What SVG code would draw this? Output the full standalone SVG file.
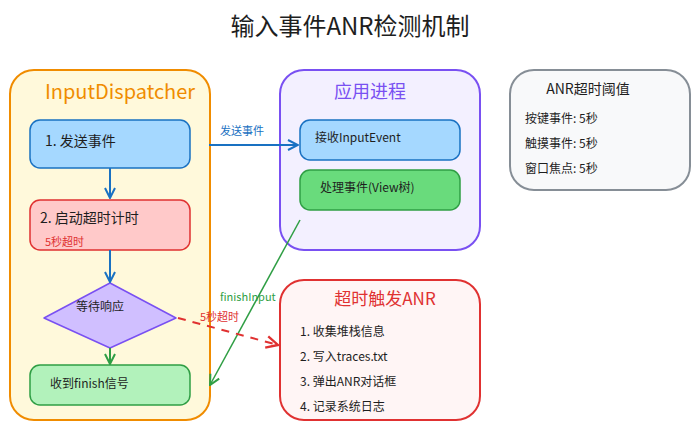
<svg xmlns="http://www.w3.org/2000/svg" width="700" height="430" viewBox="0 0 700 430">
<defs>
<style>
text{font-family:"Noto Sans CJK SC","Noto Sans",sans-serif;fill:#1e1e1e}
.t{font-size:14px}
.s{font-size:12px}
.c{text-anchor:middle}
</style>
<marker id="ab" viewBox="0 0 12 12" refX="11" refY="6" markerWidth="12" markerHeight="12" markerUnits="userSpaceOnUse" orient="auto"><path d="M1,1 L11,6 L1,11" fill="none" stroke="#1971c2" stroke-width="2"/></marker>
<marker id="ag" viewBox="0 0 12 12" refX="11" refY="6" markerWidth="12" markerHeight="12" markerUnits="userSpaceOnUse" orient="auto"><path d="M1,1 L11,6 L1,11" fill="none" stroke="#2f9e44" stroke-width="2"/></marker>
<marker id="ar" viewBox="0 0 12 12" refX="11" refY="6" markerWidth="14" markerHeight="14" markerUnits="userSpaceOnUse" orient="auto"><path d="M1,1 L11,6 L1,11" fill="none" stroke="#e03131" stroke-width="2"/></marker>
</defs>
<rect width="700" height="430" fill="#fff"/>
<text x="350" y="35" class="c" font-size="24">输入事件ANR检测机制</text>
<g id="dispatcher"><rect x="10" y="70" width="200" height="350" rx="24" fill="#fff9db" stroke="#f08c00" stroke-width="2"/><text x="120" y="99" class="c" font-size="20" style="fill:#f08c00">InputDispatcher</text></g>
<g id="send"><rect x="30" y="120" width="160" height="48" rx="10" fill="#a5d8ff" stroke="#1971c2" stroke-width="1.5"/><text x="45" y="146" class="t">1. 发送事件</text></g>
<g id="timer"><rect x="30" y="200" width="160" height="50" rx="10" fill="#ffc9c9" stroke="#e03131" stroke-width="1.5"/><text x="40" y="223" class="t">2. 启动超时计时</text><text x="45" y="246" font-size="11" style="fill:#e03131">5秒超时</text></g>
<g id="wait"><path d="M110,283 L176,318 L110,348 L44,318 Z" fill="#d0bfff" stroke="#7950f2" stroke-width="1.5" stroke-linejoin="round"/><text x="100" y="311" class="s c">等待响应</text></g>
<g id="finish"><rect x="30" y="365" width="160" height="40" rx="10" fill="#b2f2bb" stroke="#2f9e44" stroke-width="1.5"/><text x="50" y="388" class="s">收到finish信号</text></g>
<g id="app"><rect x="280" y="70" width="200" height="180" rx="24" fill="#f3f0ff" stroke="#7950f2" stroke-width="2"/><text x="370" y="98" class="c" font-size="18" style="fill:#7950f2">应用进程</text></g>
<g id="recv"><rect x="300" y="120" width="160" height="40" rx="10" fill="#a5d8ff" stroke="#1971c2" stroke-width="1.5"/><text x="315" y="142" class="s">接收InputEvent</text></g>
<g id="process"><rect x="300" y="170" width="160" height="40" rx="10" fill="#69db7c" stroke="#2f9e44" stroke-width="1.5"/><text x="320" y="192" class="s">处理事件(View树)</text></g>
<g id="anr"><rect x="280" y="280" width="200" height="140" rx="24" fill="#fff5f5" stroke="#e03131" stroke-width="2"/><text x="385" y="305" class="c" font-size="17" style="fill:#e03131">超时触发ANR</text>
<text x="300" y="336" class="s">1. 收集堆栈信息</text><text x="300" y="361" class="s">2. 写入traces.txt</text><text x="300" y="386" class="s">3. 弹出ANR对话框</text><text x="300" y="411" class="s">4. 记录系统日志</text></g>
<g id="threshold"><rect x="510" y="70" width="180" height="120" rx="24" fill="#f8f9fa" stroke="#868e96" stroke-width="2"/><text x="588" y="94" class="t c">ANR超时阈值</text>
<text x="525" y="123" class="s">按键事件: 5秒</text><text x="525" y="148" class="s">触摸事件: 5秒</text><text x="525" y="173" class="s">窗口焦点: 5秒</text></g>
<g id="connectors" fill="none" stroke-width="2">
<path d="M110,168 L110,198" stroke="#1971c2" marker-end="url(#ab)"/>
<path d="M110,250 L110,282" stroke="#1971c2" marker-end="url(#ab)"/>
<path d="M110,348 L110,364" stroke="#2f9e44" marker-end="url(#ag)"/>
<path d="M209,145 L298,145" stroke="#1971c2" marker-end="url(#ab)"/>
<path d="M300,220 L210,385" stroke="#2f9e44" stroke-width="1.5" marker-end="url(#ag)"/>
<path d="M178,318 L278,345" stroke="#e03131" stroke-dasharray="8 7" marker-end="url(#ar)"/>
<text x="220" y="135" font-size="11" stroke="none" style="fill:#1971c2">发送事件</text>
<text x="220" y="301" font-size="11" stroke="none" style="fill:#2f9e44">finishInput</text>
<text x="200" y="321" font-size="11" stroke="none" style="fill:#e03131">5秒超时</text>
</g>
</svg>
